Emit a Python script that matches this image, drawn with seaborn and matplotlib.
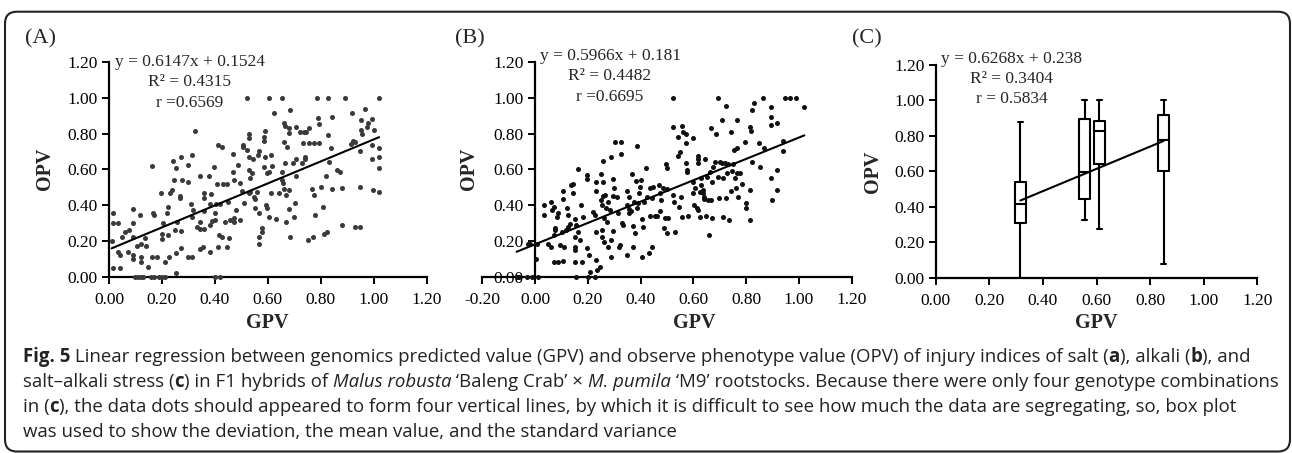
import numpy as np
import pandas as pd
import seaborn as sns
import matplotlib.pyplot as plt
from matplotlib.patches import FancyBboxPatch

# (A) salt stress: GPV, OPV
a_points = [
    (0.016, 0.354), (0.016, 0.30), (0.035, 0.30), (0.01, 0.20), (0.014, 0.047), (0.04, 0.047),
    (0.033, 0.14), (0.04, 0.12), (0.048, 0.22), (0.06, 0.25), (0.077, 0.26), (0.073, 0.136),
    (0.092, 0.38), (0.092, 0.30), (0.092, 0.22), (0.09, 0.12), (0.092, 0.10), (0.105, 0.17),
    (0.117, 0.345), (0.12, 0.18), (0.12, 0.11), (0.12, 0.084), (0.136, 0.215), (0.139, 0.17),
    (0.149, 0.056), (0.161, 0.62), (0.165, 0.354), (0.17, 0.345), (0.164, 0.11), (0.18, 0.11),
    (0.199, 0.24), (0.197, 0.465), (0.203, 0.30), (0.2, 0.21), (0.21, 0.08), (0.218, 0.354),
    (0.224, 0.387), (0.224, 0.233), (0.227, 0.11), (0.23, 0.465), (0.237, 0.484), (0.243, 0.648),
    (0.246, 0.54), (0.25, 0.26), (0.252, 0.13), (0.252, 0.019), (0.252, 0.605), (0.256, 0.307),
    (0.269, 0.452), (0.271, 0.67), (0.269, 0.437), (0.275, 0.54), (0.271, 0.158), (0.272, 0.257),
    (0.297, 0.53), (0.297, 0.624), (0.30, 0.11), (0.313, 0.11), (0.309, 0.406), (0.315, 0.68),
    (0.313, 0.335), (0.319, 0.372), (0.323, 0.814), (0.332, 0.28), (0.342, 0.564), (0.342, 0.264),
    (0.344, 0.307), (0.344, 0.153), (0.354, 0.164), (0.357, 0.465), (0.357, 0.437), (0.357, 0.369),
    (0.359, 0.264), (0.376, 0.564), (0.382, 0.406), (0.38, 0.136), (0.382, 0.289), (0.387, 0.46),
    (0.39, 0.313), (0.398, 0.614), (0.40, 0.354), (0.40, 0.316), (0.403, 0.406), (0.407, 0.52),
    (0.41, 0.167), (0.40, 0.0), (0.42, 0.0), (0.411, 0.735), (0.426, 0.726), (0.42, 0.406),
    (0.417, 0.233), (0.426, 0.223), (0.432, 0.518), (0.439, 0.307), (0.445, 0.52), (0.445, 0.167),
    (0.451, 0.417), (0.455, 0.214), (0.458, 0.316), (0.47, 0.685), (0.47, 0.587), (0.473, 0.54),
    (0.473, 0.326), (0.474, 0.307), (0.48, 0.372), (0.486, 0.624), (0.493, 0.524), (0.496, 0.316),
    (0.502, 0.48), (0.506, 0.726), (0.508, 0.735), (0.51, 0.41), (0.523, 1.0), (0.527, 0.80),
    (0.527, 0.773), (0.523, 0.708), (0.527, 0.67), (0.527, 0.596), (0.531, 0.55), (0.527, 0.465),
    (0.533, 0.471), (0.54, 0.577), (0.544, 0.66), (0.549, 0.447), (0.55, 0.382), (0.552, 0.434),
    (0.559, 0.475), (0.562, 0.68), (0.565, 0.704), (0.565, 0.223), (0.565, 0.18), (0.567, 0.354),
    (0.577, 0.27), (0.578, 0.251), (0.584, 0.758), (0.586, 0.782), (0.59, 0.816), (0.59, 0.67),
    (0.586, 0.614), (0.593, 0.40), (0.596, 0.577), (0.596, 0.382), (0.603, 1.0), (0.603, 0.587),
    (0.603, 0.335), (0.612, 0.68), (0.615, 0.62), (0.613, 0.465), (0.625, 0.912), (0.632, 0.32),
    (0.643, 0.465), (0.653, 1.0), (0.653, 0.54), (0.653, 0.587), (0.657, 0.524), (0.66, 0.488),
    (0.662, 0.754), (0.662, 0.857), (0.665, 0.842), (0.665, 0.633), (0.669, 0.458), (0.669, 0.307),
    (0.674, 0.726), (0.678, 0.484), (0.678, 0.376), (0.679, 0.832), (0.679, 0.804), (0.682, 0.931),
    (0.685, 0.223), (0.695, 0.633), (0.70, 0.331), (0.703, 0.41), (0.707, 0.834), (0.707, 0.655),
    (0.707, 0.564), (0.722, 0.81), (0.729, 0.633), (0.733, 0.745), (0.735, 0.808), (0.741, 0.67),
    (0.741, 0.655), (0.744, 0.81), (0.75, 0.205), (0.754, 0.832), (0.754, 0.745), (0.767, 0.49),
    (0.77, 0.223), (0.773, 0.745), (0.774, 0.456), (0.779, 0.345), (0.786, 1.0), (0.788, 0.885),
    (0.792, 0.853), (0.792, 0.749), (0.80, 0.50), (0.81, 0.39), (0.813, 0.236), (0.818, 0.564),
    (0.823, 0.248), (0.827, 1.0), (0.827, 0.79), (0.83, 0.639), (0.84, 0.717), (0.841, 0.49),
    (0.842, 0.894), (0.861, 0.596), (0.874, 0.583), (0.88, 0.289), (0.88, 0.494), (0.893, 1.0),
    (0.918, 0.912), (0.915, 0.741), (0.921, 0.76), (0.93, 0.754), (0.93, 0.28), (0.947, 0.28),
    (0.947, 0.50), (0.95, 0.875), (0.95, 0.82), (0.956, 0.80), (0.947, 0.704), (0.968, 0.935),
    (0.975, 0.838), (0.977, 0.857), (0.994, 0.88), (0.994, 0.735), (0.994, 0.655), (0.998, 0.484),
    (1.0, 0.82), (1.02, 1.0), (1.02, 0.717), (1.02, 0.67), (1.02, 0.605), (1.02, 0.475),
    (0.10, 0.0), (0.11, 0.0), (0.12, 0.0), (0.13, 0.0), (0.16, 0.0), (0.17, 0.0),
    (0.19, 0.0), (0.20, 0.0), (0.21, 0.0),
]

# (B) alkali stress
b_points = [
    (-0.019, 0.18), (-0.028, 0.185), (0.006, 0.18), (0.004, 0.10),
    (-0.07, 0.0), (-0.06, 0.0), (-0.03, 0.0), (-0.01, 0.0), (0.01, 0.0),
    (0.034, 0.40), (0.032, 0.345), (0.048, 0.18), (0.059, 0.164), (0.059, 0.415), (0.063, 0.372),
    (0.073, 0.39), (0.076, 0.274), (0.076, 0.26), (0.073, 0.233), (0.073, 0.084), (0.085, 0.084),
    (0.082, 0.335), (0.085, 0.354), (0.095, 0.177), (0.101, 0.248), (0.105, 0.479), (0.105, 0.432),
    (0.107, 0.089), (0.11, 0.167), (0.117, 0.26), (0.12, 0.382), (0.126, 0.345), (0.126, 0.279),
    (0.133, 0.292), (0.135, 0.512), (0.143, 0.47), (0.145, 0.52), (0.152, 0.32), (0.152, 0.223),
    (0.152, 0.167), (0.152, 0.15), (0.153, 0.084), (0.155, 0.289), (0.155, 0.0), (0.164, 0.60),
    (0.164, 0.251), (0.17, 0.205), (0.173, 0.40), (0.179, 0.084), (0.183, 0.335), (0.196, 0.568),
    (0.196, 0.546), (0.198, 0.158), (0.206, 0.12), (0.208, 0.028), (0.202, 0.0), (0.221, 0.363),
    (0.227, 0.345), (0.231, 0.53), (0.231, 0.48), (0.23, 0.251), (0.231, 0.093), (0.233, 0.037),
    (0.227, 0.0), (0.246, 0.056), (0.25, 0.574), (0.25, 0.428), (0.253, 0.40), (0.253, 0.26),
    (0.253, 0.223), (0.256, 0.648), (0.256, 0.53), (0.259, 0.45), (0.261, 0.326), (0.263, 0.195),
    (0.265, 0.456), (0.268, 0.382), (0.271, 0.307), (0.278, 0.167), (0.278, 0.419), (0.284, 0.372),
    (0.288, 0.112), (0.288, 0.205), (0.289, 0.67), (0.294, 0.544), (0.297, 0.257), (0.297, 0.45),
    (0.30, 0.493), (0.303, 0.75), (0.309, 0.447), (0.316, 0.354), (0.319, 0.167), (0.322, 0.177),
    (0.326, 0.75), (0.326, 0.683), (0.328, 0.302), (0.332, 0.289), (0.347, 0.48), (0.35, 0.40),
    (0.354, 0.447), (0.347, 0.12), (0.357, 0.354), (0.357, 0.376), (0.362, 0.369), (0.369, 0.574),
    (0.372, 0.167), (0.372, 0.283), (0.375, 0.419), (0.379, 0.242), (0.385, 0.732), (0.383, 0.534),
    (0.385, 0.382), (0.391, 0.41), (0.395, 0.47), (0.398, 0.503), (0.402, 0.54), (0.404, 0.108),
    (0.404, 0.32), (0.41, 0.276), (0.413, 0.419), (0.42, 0.605), (0.423, 0.447), (0.433, 0.13),
    (0.436, 0.339), (0.436, 0.497), (0.442, 0.167), (0.444, 0.437), (0.448, 0.503), (0.455, 0.339),
    (0.463, 0.339), (0.471, 0.512), (0.473, 0.465), (0.473, 0.369), (0.476, 0.428), (0.483, 0.497),
    (0.49, 0.274), (0.492, 0.33), (0.496, 0.628), (0.499, 0.605), (0.501, 0.242), (0.505, 0.33),
    (0.499, 0.488), (0.521, 1.0), (0.524, 0.838), (0.524, 0.456), (0.527, 0.419), (0.53, 0.251),
    (0.54, 0.782), (0.543, 0.674), (0.547, 0.391), (0.549, 0.698), (0.551, 0.443), (0.556, 0.842),
    (0.556, 0.335), (0.562, 0.81), (0.572, 0.80), (0.572, 0.745), (0.572, 0.637), (0.574, 0.596),
    (0.577, 0.587), (0.578, 0.339), (0.597, 0.773), (0.60, 0.53), (0.60, 0.47), (0.602, 0.40),
    (0.606, 0.493), (0.612, 0.382), (0.616, 0.674), (0.619, 0.66), (0.619, 0.633), (0.619, 0.372),
    (0.623, 0.475), (0.625, 0.335), (0.629, 0.553), (0.629, 0.512), (0.635, 0.484), (0.638, 0.465),
    (0.64, 0.447), (0.64, 0.432), (0.644, 0.655), (0.646, 0.339), (0.65, 0.555), (0.654, 0.428),
    (0.66, 0.233), (0.663, 0.587), (0.667, 0.829), (0.667, 0.428), (0.669, 0.53), (0.669, 0.326),
    (0.673, 0.614), (0.682, 0.642), (0.686, 0.797), (0.694, 1.0), (0.694, 0.555), (0.697, 0.437),
    (0.70, 0.642), (0.707, 0.875), (0.707, 0.633), (0.711, 0.553), (0.713, 0.335), (0.72, 0.633),
    (0.723, 0.953), (0.723, 0.437), (0.729, 0.577), (0.732, 0.629), (0.736, 0.316), (0.741, 0.81),
    (0.741, 0.479), (0.745, 0.592), (0.748, 0.629), (0.754, 0.708), (0.758, 0.549), (0.761, 0.493),
    (0.764, 0.875), (0.764, 0.717), (0.764, 0.577), (0.77, 0.447), (0.777, 0.581), (0.783, 0.518),
    (0.795, 0.754), (0.80, 0.41), (0.80, 0.382), (0.815, 0.316), (0.815, 0.484), (0.815, 0.838),
    (0.817, 0.816), (0.821, 0.642), (0.821, 0.931), (0.83, 0.972), (0.85, 0.745), (0.852, 0.614),
    (0.865, 1.0), (0.869, 0.717), (0.894, 0.95), (0.894, 0.894), (0.894, 0.847), (0.894, 0.549),
    (0.896, 0.428), (0.918, 0.86), (0.918, 0.596), (0.918, 0.484), (0.941, 0.758), (0.941, 0.702),
    (0.947, 1.0), (0.966, 1.0), (0.989, 1.0), (1.02, 0.946),
]

# (C) salt-alkali stress: four genotype groups, five-number summary per box
c_gpv = [0.316, 0.556, 0.611, 0.85]
c_min = [0.0, 0.328, 0.277, 0.079]
c_q1 = [0.307, 0.446, 0.640, 0.601]
c_med = [0.418, 0.594, 0.828, 0.779]
c_q3 = [0.539, 0.897, 0.882, 0.918]
c_max = [0.875, 1.0, 1.0, 1.0]

# regression results printed on each panel
slopes = [0.6147, 0.5966, 0.6268]
intercepts = [0.1524, 0.181, 0.238]
eq_text = ["y = 0.6147x + 0.1524", "y = 0.5966x + 0.181", "y = 0.6268x + 0.238"]
r2_text = ["R² = 0.4315", "R² = 0.4482", "R² = 0.3404"]
r_text = ["r =0.6569", "r =0.6695", "r = 0.5834"]
panel_names = ["(A)", "(B)", "(C)"]
y_ticks = [0.0, 0.2, 0.4, 0.6, 0.8, 1.0, 1.2]

# caption runs: (text, style) with style n = normal, b = bold, i = italic
caption = [
    [("Fig. 5", "b"), (" Linear regression between genomics predicted value (GPV) and observe phenotype "
      "value (OPV) of injury indices of salt (", "n"), ("a", "b"), ("), alkali (", "n"), ("b", "b"),
     ("), and", "n")],
    [("salt–alkali stress (", "n"), ("c", "b"), (") in F1 hybrids of ", "n"), ("Malus robusta", "i"),
     (" ‘Baleng Crab’ × ", "n"), ("M. pumila", "i"),
     (" ‘M9’ rootstocks. Because there were only four genotype combinations", "n")],
    [("in (", "n"), ("c", "b"), ("), the data dots should appeared to form four vertical lines, by which it "
      "is difficult to see how much the data are segregating, so, box plot", "n")],
    [("was used to show the deviation, the mean value, and the standard variance", "n")],
]

sns.set_style("ticks")
plt.rcParams["font.family"] = ["Liberation Serif", "DejaVu Serif"]
plt.rcParams["axes.unicode_minus"] = False

W, H = 1292, 453
fig = plt.figure(figsize=(W / 100, H / 100), dpi=100)

# axes rectangles in pixels: left, x_right, y_bottom, y_top
rects = [(109, 426.7, 276.7, 61.9), (482.3, 851.8, 276.7, 61.9), (935.7, 1257.3, 278, 64.7)]
axes = []
for x0, x1, yb, yt in rects:
    axes.append(fig.add_axes([x0 / W, 1 - yb / H, (x1 - x0) / W, (yb - yt) / H]))

dfa = pd.DataFrame(a_points, columns=["gpv", "opv"])
dfb = pd.DataFrame(b_points, columns=["gpv", "opv"])
rows = []
for g, lo, q1, md, q3, hi in zip(c_gpv, c_min, c_q1, c_med, c_q3, c_max):
    for v in (lo, q1, md, q3, hi):
        rows.append((g, v))
dfc = pd.DataFrame(rows, columns=["gpv", "opv"])

sns.scatterplot(data=dfa, x="gpv", y="opv", ax=axes[0], s=13, color="#3a3a3a",
                linewidth=0, clip_on=False, zorder=3)
sns.scatterplot(data=dfb, x="gpv", y="opv", ax=axes[1], s=13, color="#111111",
                linewidth=0, clip_on=False, zorder=3)
sns.boxplot(data=dfc, x="gpv", y="opv", ax=axes[2], native_scale=True, width=0.73,
            whis=(0, 100), fill=False, color="black", linewidth=1.5, showfliers=False)

fit_x = [dfa["gpv"], dfb["gpv"], dfc["gpv"]]
for i, ax in enumerate(axes):
    xs = np.array([fit_x[i].min(), fit_x[i].max()])
    ax.plot(xs, slopes[i] * xs + intercepts[i], color="black", lw=1.5, zorder=4)

xlims = [(0, 1.2), (-0.2, 1.2), (0, 1.2)]
x_ticks = [y_ticks, [-0.2] + y_ticks, y_ticks]
text_x = [0.305, 0.284, 0.284]
text_y = [(1.20, 1.088, 0.97), (1.231, 1.121, 1.006), (1.234, 1.122, 1.006)]
ylab_x = [-0.17, -0.009, -0.164]
xlab_pos = [(0.497, -0.169), (0.573, -0.169), (0.50, -0.165)]

for i, ax in enumerate(axes):
    sns.despine(ax=ax)
    ax.set_xlim(*xlims[i])
    ax.set_ylim(0, 1.2)
    ax.set_xticks(x_ticks[i])
    ax.set_yticks(y_ticks)
    ax.xaxis.set_major_formatter("{x:.2f}")
    ax.yaxis.set_major_formatter("{x:.2f}")
    for side in ("left", "bottom"):
        ax.spines[side].set_linewidth(1.6)
        ax.spines[side].set_color("black")
    ax.tick_params(direction="out", length=5, width=1.4, labelsize=12.5, colors="black")
    ax.tick_params(axis="x", pad=6)
    ax.tick_params(axis="y", pad=3)
    ax.set_xlabel("GPV", fontsize=14.5, fontweight="bold")
    ax.set_ylabel("OPV", fontsize=14.5, fontweight="bold")
    ax.yaxis.set_label_coords(ylab_x[i], 0.5)
    ax.xaxis.set_label_coords(*xlab_pos[i])
    for s, ty in zip((eq_text[i], r2_text[i], r_text[i]), text_y[i]):
        ax.text(text_x[i], ty, s, ha="center", va="center", fontsize=12.5, clip_on=False)
    ax.grid(False)

# panel B has its y axis at GPV = 0
axes[1].spines["left"].set_position(("data", 0))

for name, px in zip(panel_names, (25, 455, 852)):
    fig.text(px / W, 1 - 39 / H, name, fontsize=16, va="center", ha="left")

# caption: draw each styled run after the previous one
renderer = fig.canvas.get_renderer()
styles = {"n": ("normal", "normal"), "b": ("bold", "normal"), "i": ("normal", "italic")}
for k, runs in enumerate(caption):
    x_px = 22.7
    for text, st in runs:
        weight, slant = styles[st]
        t = fig.text(x_px / W, 1 - (362 + 25 * k) / H, text, fontsize=13.4, fontweight=weight,
                     fontstyle=slant, va="baseline", ha="left",
                     family=["Open Sans", "DejaVu Sans"], color="#222222")
        x_px += t.get_window_extent(renderer).width

border = FancyBboxPatch((0.05, 0.015), 12.85, 4.398, boxstyle="round,pad=0,rounding_size=0.12",
                        transform=fig.dpi_scale_trans, fill=False, edgecolor="#222222", lw=1.5)
fig.patches.append(border)

fig.savefig("out.png", dpi=100)
